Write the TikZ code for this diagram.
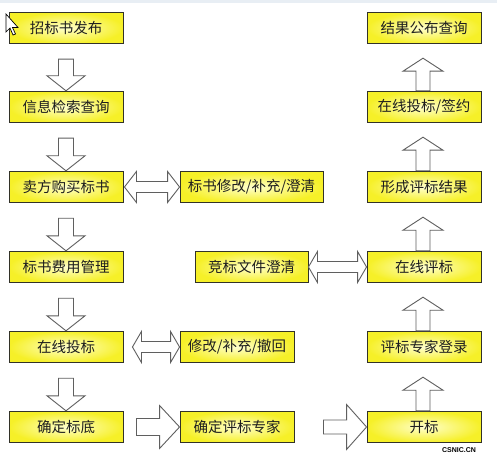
\documentclass[tikz,border=0pt]{standalone}
\usepackage{fontspec}
\newfontfamily\cjk{Noto Sans CJK SC}
\usetikzlibrary{calc}
\definecolor{boxin}{RGB}{255,255,205}
\definecolor{boxout}{RGB}{246,240,40}
\definecolor{boxline}{RGB}{50,50,40}
\definecolor{arrline}{RGB}{95,95,95}
\definecolor{txt}{RGB}{30,30,30}
\definecolor{topstrip}{RGB}{232,238,244}
\tikzset{
  yb/.style={draw=boxline, line width=0.9pt, inner color=boxin, outer color=boxout,
    minimum height=31.5pt, inner sep=0pt, text=txt,
    font=\cjk\fontsize{14.5pt}{16pt}\selectfont},
  barrow/.style={draw=arrline, fill=white, line width=0.9pt, line join=miter},
}
% down block arrow from #1 to #2
\newcommand\blkdown[2]{%
 \draw[barrow] let \p1=(#1.south), \p2=(#2.north) in
 ({\x1-7.5pt},{\y1-15pt}) -- ({\x1+7.5pt},{\y1-15pt}) -- ({\x1+7.5pt},{\y2+15pt})
 -- ({\x1+19pt},{\y2+15pt}) -- (\x1,\y2) -- ({\x1-19pt},{\y2+15pt})
 -- ({\x1-7.5pt},{\y2+15pt}) -- cycle;}
% up block arrow from lower #1 to upper #2
\newcommand\blkup[2]{%
 \draw[barrow] let \p1=(#1.north), \p2=(#2.south) in
 ({\x1-8pt},\y1) -- ({\x1+6pt},\y1) -- ({\x1+6pt},{\y2-27pt})
 -- ({\x1+19pt},{\y2-27pt}) -- ({\x1-1pt},{\y2-14pt}) -- ({\x1-21pt},{\y2-27pt})
 -- ({\x1-8pt},{\y2-27pt}) -- cycle;}
% double block arrow: #1 from, #2 to, #3 start offset, #4 end offset, #5 head length
\newcommand\blkdbl[5]{%
 \draw[barrow] let \p1=(#1.east), \p2=(#2.west) in
 ({\x1+#3},\y1) -- ({\x1+#3+#5},{\y1+15.5pt}) -- ({\x1+#3+#5},{\y1+5.5pt})
 -- ({\x2-#4-#5},{\y1+5.5pt}) -- ({\x2-#4-#5},{\y1+15.5pt}) -- ({\x2-#4},\y1)
 -- ({\x2-#4-#5},{\y1-15.5pt}) -- ({\x2-#4-#5},{\y1-5.5pt})
 -- ({\x1+#3+#5},{\y1-5.5pt}) -- ({\x1+#3+#5},{\y1-15.5pt}) -- cycle;}
% single right block arrow: #1 from, #2 to, #3 start offset, #4 head length, #5 shaft half, #6 head half
\newcommand\blkright[6]{%
 \draw[barrow] let \p1=(#1.east), \p2=(#2.west) in
 ({\x1+#3},{\y1+#5}) -- ({\x2-#4},{\y1+#5}) -- ({\x2-#4},{\y1+#6}) -- (\x2,\y1)
 -- ({\x2-#4},{\y1-#6}) -- ({\x2-#4},{\y1-#5}) -- ({\x1+#3},{\y1-#5}) -- cycle;}
\begin{document}
\begin{tikzpicture}[x=1pt,y=1pt]
\useasboundingbox (0,0) rectangle (497,461);
\fill[white] (0,0) rectangle (497,461);
\fill[topstrip] (0,458) rectangle (497,461);
% left column
\node[yb, minimum width=114pt] (l1) at (66,433) {招标书发布};
\node[yb, minimum width=114pt] (l2) at (66,354) {信息检索查询};
\node[yb, minimum width=114pt] (l3) at (66,274) {卖方购买标书};
\node[yb, minimum width=114pt] (l4) at (66,194) {标书费用管理};
\node[yb, minimum width=114pt] (l5) at (66,114) {在线投标};
\node[yb, minimum width=114pt] (l6) at (66,34) {确定标底};
% middle column
\node[yb, minimum width=143pt] (m1) at (251.5,274) {标书修改/补充/澄清};
\node[yb, minimum width=113pt] (m2) at (251.5,194) {竞标文件澄清};
\node[yb, minimum width=114pt] (m3) at (237,114) {修改/补充/撤回};
\node[yb, minimum width=114pt] (m4) at (237,34) {确定评标专家};
% right column
\node[yb, minimum width=114pt] (r1) at (424,433) {结果公布查询};
\node[yb, minimum width=114pt] (r2) at (424,354) {在线投标/签约};
\node[yb, minimum width=114pt] (r3) at (424,274) {形成评标结果};
\node[yb, minimum width=114pt] (r4) at (424,194) {在线评标};
\node[yb, minimum width=114pt] (r5) at (424,114) {评标专家登录};
\node[yb, minimum width=114pt] (r6) at (424,34) {开标};
% left down arrows
\blkdown{l1}{l2}
\blkdown{l2}{l3}
\blkdown{l3}{l4}
\blkdown{l4}{l5}
\blkdown{l5}{l6}
% right up arrows
\blkup{r6}{r5}
\blkup{r5}{r4}
\blkup{r4}{r3}
\blkup{r3}{r2}
\blkup{r2}{r1}
% horizontal double arrows
\blkdbl{l3}{m1}{1pt}{0pt}{12pt}
\blkdbl{l5}{m3}{9pt}{0pt}{9pt}
\blkdbl{m2}{r4}{0pt}{0pt}{9pt}
% single right arrows
\blkright{l6}{m4}{13pt}{20pt}{8.5pt}{21.5pt}
\blkright{m4}{r6}{29pt}{20pt}{7pt}{22.5pt}
% mouse cursor
\coordinate (c0) at (6,447);
\draw[black, fill=white, line width=0.7pt, line join=miter] (c0) -- (6,429) -- (10,433) -- (13,426) -- (15.5,427) -- (12.5,433.5) -- (18,433.5) -- cycle;
% watermark
\node[font=\fontspec{Liberation Sans Bold}\fontsize{7pt}{7pt}\selectfont, text=black, inner sep=0pt] (wm) at (459,11) {CSNIC.CN};
\end{tikzpicture}
\end{document}
